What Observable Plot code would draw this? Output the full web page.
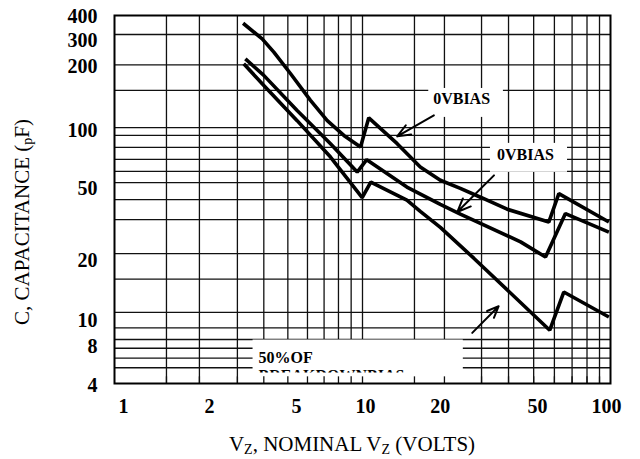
<!DOCTYPE html>
<html>
<head>
<meta charset="utf-8">
<script src="https://cdn.jsdelivr.net/npm/d3@7"></script>
<script src="https://cdn.jsdelivr.net/npm/@observablehq/plot@0.6"></script>
<style>
  html, body { margin: 0; padding: 0; background: #fff; }
  #chart svg { display: block; }
</style>
</head>
<body>
<div id="chart"></div>
<script>
// ---- Data ----
// Curves: nominal Vz (volts) vs capacitance (pF)
const upperV = [3.30, 3.94, 4.39, 5.13, 6.17, 7.21, 8.41, 9.82, 10.6, 13.8, 17.1, 20.6, 24.8, 29.9, 38.3, 56.4, 61.9, 98.5];
const upperC = [374, 309, 263, 202, 146, 114, 95.2, 82.6, 118, 86.1, 64.7, 55.1, 49.9, 44.8, 38.7, 33.1, 46.8, 33.1];
const middleV = [3.37, 4.0, 5.45, 7.43, 9.52, 10.4, 15.1, 20.6, 24.8, 43.4, 54.7, 65.8, 98.5];
const middleC = [242, 198, 129, 86.1, 60.9, 70.8, 50.7, 41.1, 36.5, 26.0, 21.6, 36.7, 29.3];
const lowerV = [3.32, 3.94, 5.45, 7.43, 9.97, 10.8, 15.1, 17.1, 20.6, 28.1, 56.9, 64.8, 98.5];
const lowerC = [228, 179, 114, 73.1, 44.6, 53.9, 43.2, 37.7, 31.0, 21.3, 8.85, 14.1, 10.4];

// Grid lines (as drawn in the reference)
const xGrid = [1.62, 2.2, 3.13, 4, 5, 6, 7, 8, 9, 10, 16.2, 21.4, 30.2, 38.8, 49, 59.4, 70, 80.4, 90.3];
const yGrid = [326, 225, 165, 104.6, 95.2, 82.3, 71.1, 61.4, 53.5, 43.5, 34.1, 22.5, 16.5, 11.0, 9.1, 7.9, 7.1, 6.3, 5.6];
const yBottom = 4.62, yTop = 411;

// Tick labels and where they sit
const xTickLabels = ["1", "2", "5", "10", "20", "50", "100"];
const xTickPos = [1.087, 2.415, 5.42, 10.28, 20.6, 50.8, 96.3];
const yTickLabels = ["400", "300", "200", "100", "50", "20", "10", "8", "4"];
const yTickPos = [404.5, 303, 220, 100.4, 49.5, 20.7, 10.0, 7.26, 4.53];

// Annotations
const noteText = ["0VBIAS", "0VBIAS"];
const noteV = [25.1, 45.4];
const noteC = [148.2, 75.5];
const noteLeftText = ["50%OF", "BREAKDOWNBIAS"];
const noteLeftV = [3.81, 3.81];
const noteLeftC = [6.34, 5.08];
const boxV1 = [18.5, 32.8, 3.62];
const boxV2 = [37.0, 67.1, 25.5];
const boxC1 = [118.6, 60.7, 5.01];
const boxC2 = [168.8, 86.4, 7.85];
const maskV1 = [3.62], maskV2 = [25.5], maskC1 = [yBottom], maskC2 = [5.25];
const arrowV1 = [19.4, 33.9, 27.7];
const arrowC1 = [121.5, 58.5, 8.57];
const arrowV2 = [13.8, 24.1, 35.4];
const arrowC2 = [94.1, 37.4, 11.86];

// ---- Build tables ----
const curves = [
  ...upperV.map((v, i) => ({s: "upper", v, c: upperC[i]})),
  ...middleV.map((v, i) => ({s: "middle", v, c: middleC[i]})),
  ...lowerV.map((v, i) => ({s: "lower", v, c: lowerC[i]}))
];
const xTicks = xTickLabels.map((t, i) => ({t, p: xTickPos[i]}));
const yTicks = yTickLabels.map((t, i) => ({t, p: yTickPos[i]}));
const notes = noteText.map((t, i) => ({t, v: noteV[i], c: noteC[i]}));
const notesLeft = noteLeftText.map((t, i) => ({t, v: noteLeftV[i], c: noteLeftC[i]}));
const boxes = boxV1.map((v, i) => ({v1: v, v2: boxV2[i], c1: boxC1[i], c2: boxC2[i]}));
const masks = maskV1.map((v, i) => ({v1: v, v2: maskV2[i], c1: maskC1[i], c2: maskC2[i]}));
const arrows = arrowV1.map((v, i) => ({v1: v, c1: arrowC1[i], v2: arrowV2[i], c2: arrowC2[i]}));

const serif = "'Liberation Serif', 'Times New Roman', serif";
const gridStyle = {stroke: "#111", strokeWidth: 1.3};

const chart = Plot.plot({
  width: 640,
  height: 459,
  marginLeft: 114,
  marginRight: 30,
  marginTop: 15,
  marginBottom: 76,
  style: {fontFamily: serif, background: "#fff"},
  x: {type: "log", domain: [1, 100], axis: null},
  y: {type: "log", domain: [yBottom, yTop], axis: null},
  marks: [
    Plot.ruleX(xGrid, {x: d => d, ...gridStyle}),
    Plot.ruleY(yGrid, {y: d => d, ...gridStyle}),
    Plot.rect(boxes, {x1: "v1", x2: "v2", y1: "c1", y2: "c2", fill: "white"}),
    Plot.text(notes, {x: "v", y: "c", text: "t", fontSize: 16, fontWeight: "bold", fill: "#000"}),
    Plot.text(notesLeft, {x: "v", y: "c", text: "t", textAnchor: "start", fontSize: 16, fontWeight: "bold", fill: "#000"}),
    Plot.rect(masks, {x1: "v1", x2: "v2", y1: "c1", y2: "c2", fill: "white"}),
    // grid stubs below the bottom label box
    Plot.ruleX(xGrid, {x: d => d, y1: yBottom, y2: boxC1[2], ...gridStyle}),
    Plot.frame({stroke: "#000", strokeWidth: 2}),
    Plot.line(curves, {x: "v", y: "c", z: "s", stroke: "#000", strokeWidth: 3.6, strokeLinejoin: "miter", strokeLinecap: "butt"}),
    Plot.arrow(arrows, {x1: "v1", y1: "c1", x2: "v2", y2: "c2", stroke: "#000", strokeWidth: 2, headLength: 11, headAngle: 45}),
    Plot.text(xTicks, {x: "p", text: "t", frameAnchor: "bottom", dy: 29, fontSize: 20, fontWeight: "bold", fill: "#000"}),
    Plot.text(yTicks, {y: "p", text: "t", frameAnchor: "left", dx: -17, textAnchor: "end", fontSize: 20, fontWeight: "bold", fill: "#000"})
  ]
});

document.getElementById("chart").appendChild(chart);

// Axis titles with subscripts
const svg = d3.select(chart);
const xt = svg.append("text")
  .attr("x", 352).attr("y", 451)
  .attr("text-anchor", "middle")
  .attr("font-family", serif).attr("font-size", 21).attr("fill", "#000");
xt.append("tspan").text("V");
xt.append("tspan").attr("font-size", 14).attr("dy", 3).text("Z");
xt.append("tspan").attr("dy", -3).text(", NOMINAL V");
xt.append("tspan").attr("font-size", 14).attr("dy", 3).text("Z");
xt.append("tspan").attr("dy", -3).text(" (VOLTS)");

const yt = svg.append("text")
  .attr("transform", "translate(29,222) rotate(-90)")
  .attr("text-anchor", "middle")
  .attr("font-family", serif).attr("font-size", 21).attr("fill", "#000");
yt.append("tspan").text("C, CAPACITANCE (");
yt.append("tspan").attr("font-size", 14).attr("dy", 3).text("p");
yt.append("tspan").attr("dy", -3).text("F)");
</script>
</body>
</html>
